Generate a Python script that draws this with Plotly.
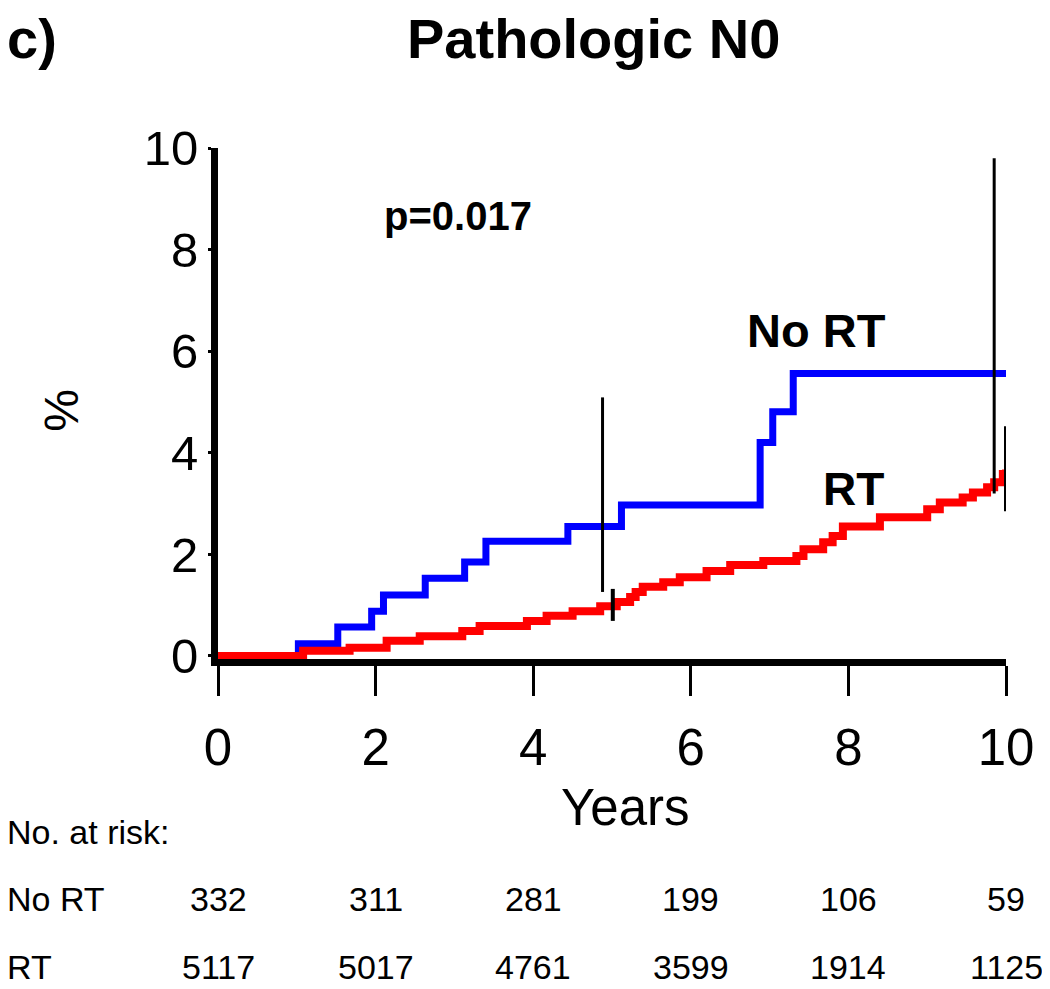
import plotly.graph_objects as go

# ---- data ----
norm_x = [0, 1.02, 1.52, 1.95, 2.10, 2.63, 3.13, 3.40, 4.44, 5.12, 6.88, 7.04, 7.30, 10.0]
norm_y = [0, 0.24, 0.57, 0.88, 1.20, 1.53, 1.85, 2.26, 2.55, 2.97, 4.20, 4.81, 5.56, 5.56]

rt_x = [0, 1.08, 1.67, 2.14, 2.56, 3.10, 3.32, 3.92, 4.17, 4.50, 4.85, 5.06, 5.23, 5.30,
        5.39, 5.65, 5.86, 6.20, 6.50, 6.92, 7.34, 7.43, 7.68, 7.80, 7.93, 8.40, 9.00,
        9.16, 9.45, 9.58, 9.76, 9.85, 9.96, 10.0]
rt_y = [0, 0.10, 0.16, 0.30, 0.39, 0.49, 0.59, 0.69, 0.79, 0.88, 0.98, 1.06, 1.16, 1.26,
        1.36, 1.45, 1.55, 1.67, 1.79, 1.87, 1.97, 2.10, 2.24, 2.36, 2.55, 2.73, 2.89,
        3.02, 3.12, 3.22, 3.32, 3.42, 3.58, 3.67]

ci_norm_x = [4.88, 9.85]
ci_norm_lo = [1.26, 3.20]
ci_norm_hi = [5.09, 9.80]
ci_rt_x = [5.01, 10.0]
ci_rt_lo = [0.69, 2.85]
ci_rt_hi = [1.32, 4.52]

risk_years = [0, 2, 4, 6, 8, 10]
risk_norm = [332, 311, 281, 199, 106, 59]
risk_rt = [5117, 5017, 4761, 3599, 1914, 1125]

x_ticks = [0, 2, 4, 6, 8, 10]
y_ticks = [0, 2, 4, 6, 8, 10]

FONT = "Arial, Liberation Sans, sans-serif"


def seg(xs, lo, hi):
    X, Y = [], []
    for x, a, b in zip(xs, lo, hi):
        X += [x, x, None]
        Y += [a, b, None]
    return X, Y


fig = go.Figure()
fig.add_trace(go.Scatter(x=norm_x, y=norm_y, mode="lines", line=dict(color="#0000ff", width=7, shape="hv"),
                         showlegend=False, hoverinfo="skip"))
fig.add_trace(go.Scatter(x=rt_x, y=rt_y, mode="lines", line=dict(color="#ff0000", width=8, shape="hv"),
                         showlegend=False, hoverinfo="skip"))
X, Y = seg(ci_norm_x, ci_norm_lo, ci_norm_hi)
fig.add_trace(go.Scatter(x=X, y=Y, mode="lines", line=dict(color="black", width=3),
                         showlegend=False, hoverinfo="skip"))
X, Y = seg(ci_rt_x, ci_rt_lo, ci_rt_hi)
fig.add_trace(go.Scatter(x=X, y=Y, mode="lines", line=dict(color="black", width=4),
                         showlegend=False, hoverinfo="skip"))

ann = []
def A(text, x, y, size, bold=False, xanchor="center", yanchor="middle", angle=0, ref="paper"):
    ann.append(dict(text=f"<b>{text}</b>" if bold else text, x=x, y=y,
                    xref="x" if ref == "data" else "paper", yref="y" if ref == "data" else "paper",
                    showarrow=False, xanchor=xanchor, yanchor=yanchor, textangle=angle,
                    font=dict(family=FONT, size=size, color="black")))

A("c)", -0.2703, 1.215, 56, bold=True, xanchor="left")
A("Pathologic N0", 0.4759, 1.215, 56, bold=True)
A("p=0.017", 3.05, 8.66, 40, bold=True, ref="data")
A("No RT", 7.60, 6.40, 47, bold=True, ref="data")
A("RT", 8.06, 3.28, 46, bold=True, ref="data")
A("Years", 0.5165, -0.2903, 51)
A("%", -0.198, 0.4878, 48, angle=-90)
A("No. at risk:", -0.2703, -0.3392, 34, xanchor="left")
A("No RT", -0.2703, -0.4702, 34, xanchor="left")
A("RT", -0.2703, -0.6031, 34, xanchor="left")
for yr, n1, n2 in zip(risk_years, risk_norm, risk_rt):
    A(str(n1), yr / 10, -0.4702, 34)
    A(str(n2), yr / 10, -0.6031, 34)

fig.update_layout(
    width=1050, height=989,
    margin=dict(l=210, r=52, t=140, b=337.5),
    paper_bgcolor="white", plot_bgcolor="white",
    annotations=ann,
    font=dict(family=FONT, color="black"),
)
fig.update_xaxes(range=[0, 10], tickvals=x_ticks, ticktext=[str(t) for t in x_ticks],
                 showgrid=False, zeroline=False, showline=True, linecolor="black", linewidth=7,
                 ticks="outside", ticklen=30, tickwidth=3, tickcolor="black", ticklabelstandoff=8,
                 tickfont=dict(family=FONT, size=51, color="black"))
fig.update_yaxes(range=[-0.06, 10], tickvals=y_ticks, ticktext=[str(t) for t in y_ticks],
                 showgrid=False, zeroline=False, showline=True, linecolor="black", linewidth=7,
                 ticks="outside", ticklen=3, tickwidth=3, tickcolor="black",
                 tickfont=dict(family=FONT, size=49, color="black"))

fig.write_html("out.html")
